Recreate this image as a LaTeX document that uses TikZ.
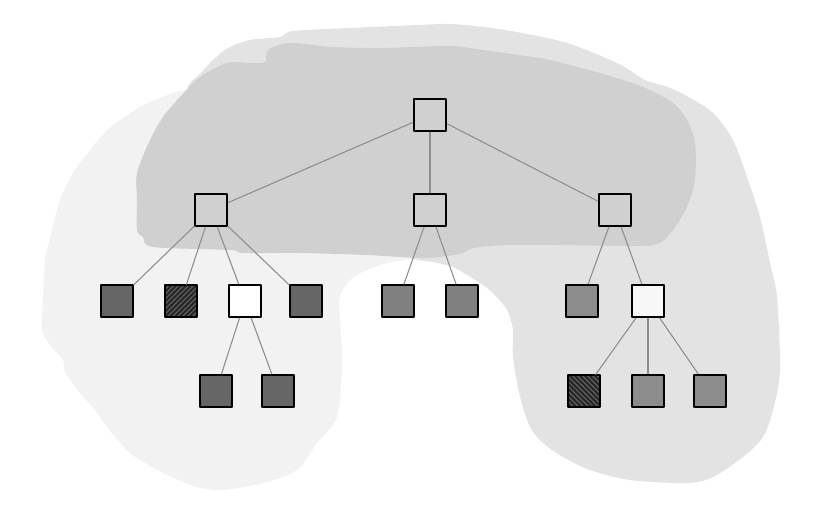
\documentclass[tikz,border=0pt]{standalone}
\usetikzlibrary{patterns.meta}
\definecolor{blobl}{HTML}{F2F2F2}
\definecolor{blobm}{HTML}{E3E3E3}
\definecolor{blobd}{HTML}{D0D0D0}
\definecolor{leafd}{HTML}{666666}
\definecolor{leafm}{HTML}{808080}
\definecolor{leafr}{HTML}{8C8C8C}
\tikzset{
  box/.style={draw=black, line width=1.3pt, minimum size=0.63cm, inner sep=0pt},
  edge/.style={draw=black!45, line width=0.6pt},
  hatchl/.style={box, preaction={fill=black!85}, pattern={Lines[angle=45,distance=2pt,line width=0.6pt]}, pattern color=black!60},
  hatchr/.style={box, preaction={fill=black!85}, pattern={Lines[angle=-45,distance=2pt,line width=0.6pt]}, pattern color=black!60}
}

\begin{document}
\begin{tikzpicture}[x=0.02cm, y=-0.02cm, line join = round]
    \useasboundingbox (0,0) rectangle (832,504);

    \fill[blobm] plot[smooth cycle, tension=0.5] coordinates {(187,90) (200,74) (213,60) (228,48) (250,40) (280,37) (293,31) (350,28) (417,25) (450,24) (483,27) (517,32) (567,43) (617,63) (645,80) (665,86) (685,95) (713,113) (733,140) (747,177) (760,217) (770,263) (777,297) (780,370) (773,410) (763,437) (743,457) (713,477) (687,483) (630,480) (590,470) (563,457) (543,443) (530,427) (520,397) (513,357) (513,330) (507,310) (493,293) (480,283) (467,275) (453,267) (433,262) (410,258) (380,240) (250,200) (190,140)};

    \fill[blobl] plot[smooth cycle, tension=0.5] coordinates {(187,90) (160,98) (140,107) (120,120) (107,130) (90,150) (73,173) (60,200) (52,230) (45,260) (43,300) (42,330) (50,345) (63,360) (65,372) (80,393) (95,410) (107,427) (130,453) (163,473) (197,487) (223,490) (263,483) (297,470) (317,443) (337,417) (342,363) (340,320) (340,297) (350,280) (367,270) (387,263) (410,259) (430,252) (400,200) (250,150) (205,100)};

    \fill[blobd] plot[smooth cycle, tension=0.5] coordinates {(268,50) (290,43) (333,47) (383,48) (450,46) (483,50) (533,57) (550,60) (600,73) (643,87) (673,103) (687,120) (695,143) (695,180) (687,207) (673,230) (660,243) (640,246) (560,245) (507,245) (473,248) (460,254) (423,258) (367,255) (300,253) (243,253) (230,250) (153,247) (143,237) (137,230) (137,200) (137,173) (150,140) (163,117) (180,97) (200,77) (227,63) (250,63) (265,62)};

    \node[box] (R) at (430,115) {};
    \node[box] (A) at (211,210) {};
    \node[box] (B) at (430,210) {};
    \node[box] (C) at (615,210) {};

    \node[box, fill=leafd] (A1) at (117,301) {};
    \node[hatchl] (A2) at (181,301) {};
    \node[box, fill=white] (A3) at (245,301) {};
    \node[box, fill=leafd] (A4) at (306,301) {};
    \node[box, fill=leafd] (A31) at (216,391) {};
    \node[box, fill=leafd] (A32) at (278,391) {};

    \node[box, fill=leafm] (B1) at (398,301) {};
    \node[box, fill=leafm] (B2) at (462,301) {};

    \node[box, fill=leafr] (C1) at (582,301) {};
    \node[box, fill=white!97!black] (C2) at (648,301) {};
    \node[hatchr] (C21) at (584,391) {};
    \node[box, fill=leafr] (C22) at (648,391) {};
    \node[box, fill=leafr] (C23) at (710,391) {};

    \draw[edge] (R) -- (A);
    \draw[edge] (R) -- (B);
    \draw[edge] (R) -- (C);

    \draw[edge] (A) -- (A1);
    \draw[edge] (A) -- (A2);
    \draw[edge] (A) -- (A3);
    \draw[edge] (A) -- (A4);
    \draw[edge] (A3) -- (A31);
    \draw[edge] (A3) -- (A32);

    \draw[edge] (B) -- (B1);
    \draw[edge] (B) -- (B2);

    \draw[edge] (C) -- (C1);
    \draw[edge] (C) -- (C2);
    \draw[edge] (C2) -- (C21);
    \draw[edge] (C2) -- (C22);
    \draw[edge] (C2) -- (C23);

\end{tikzpicture}
\end{document}
